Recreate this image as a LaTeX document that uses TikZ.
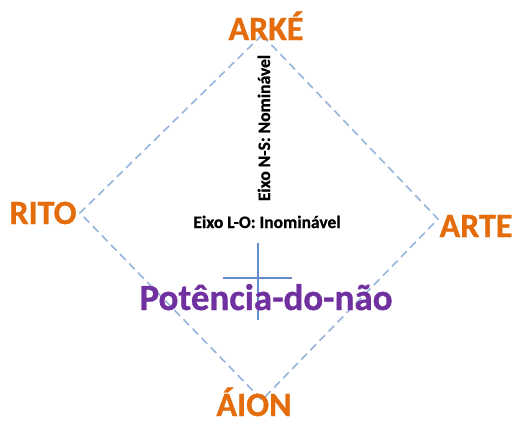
\documentclass[tikz,border=0pt]{standalone}
\usepackage{fontspec}
\setmainfont{Carlito}[BoldFont={Carlito Bold},BoldFeatures={FakeBold=0.8}]
\definecolor{lbl}{HTML}{E46C0A}
\definecolor{pur}{HTML}{7030A0}
\definecolor{dashc}{RGB}{150,180,220}
\definecolor{crossc}{RGB}{100,140,205}
\begin{document}
\begin{tikzpicture}[x=1pt,y=-1pt,
  corner/.style={inner sep=0pt,outer sep=0pt},
  lab/.style={text=lbl,font=\fontsize{34}{34}\selectfont\bfseries,inner sep=0pt,anchor=base},
  axis/.style={text=black,font=\fontsize{17.5}{17.5}\selectfont\bfseries,inner sep=0pt,anchor=base},
  edge/.style={dashc,line width=1.6pt,dash pattern=on 8pt off 5pt},
  crossline/.style={crossc,line width=1.8pt}]
\useasboundingbox (0,0) rectangle (520,423);
\fill[white] (0,0) rectangle (520,423);
\coordinate (T) at (262,35);
\coordinate (L) at (80,213);
\coordinate (R) at (438,219);
\coordinate (B) at (262,400);
\draw[edge] (T) -- (L) -- (B) -- (R) -- cycle;
\coordinate (vt) at (258,243);
\coordinate (vb) at (258,320);
\coordinate (hl) at (223,278);
\coordinate (hr) at (292,278);
\draw[crossline] (vt) -- (vb);
\draw[crossline] (hl) -- (hr);
\node[lab] (arke) at (266,40) {ARKÉ};
\node[lab] (rito) at (43,224) {RITO};
\node[lab] (arte) at (476,237) {ARTE};
\node[lab] (aion) at (254,416) {ÁION};
\node[text=pur,font=\fontsize{37}{37}\selectfont\bfseries,inner sep=0pt,anchor=base] (pot) at (266,310) {Potência-do-não};
\node[axis] (lo) at (267,228) {Eixo L-O: Inominável};
\node[axis,rotate=90] (ns) at (270,128) {Eixo N-S: Nominável};
\end{tikzpicture}
\end{document}
